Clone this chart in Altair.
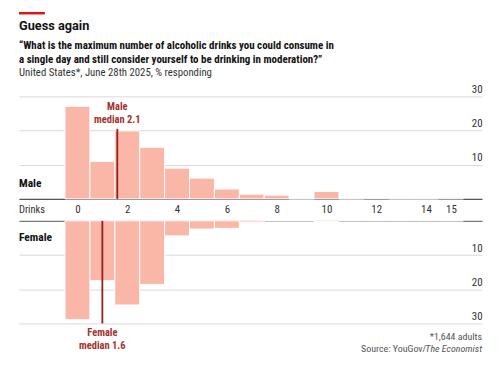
import altair as alt
import pandas as pd

# ---------------- data ----------------
drinks = list(range(16))
male_pct = [27.1, 11.0, 19.9, 15.1, 9.0, 6.1, 2.9, 1.4, 1.1, 0.0, 2.2, 0.0, 0.2, 0.0, 0.0, 0.3]
female_pct = [28.9, 17.5, 24.6, 18.6, 4.4, 2.4, 2.2, 0.4, 0.0, 0.0, 0.2, 0.0, 0.0, 0.0, 0.0, 0.0]
x_ticks = [0, 2, 4, 6, 8, 10, 12, 14, 15]
y_ticks = [10, 20, 30]
male_median_lines = ["Male", "median 2.1"]
female_median_lines = ["Female", "median 1.6"]
male_median_pos = [1.6]
female_median_pos = [1.0]
male_median_top = [20.5]
female_median_bottom = [30]

title_text = "Guess again"
subtitle_1 = "\u201cWhat is the maximum number of alcoholic drinks you could consume in"
subtitle_2 = "a single day and still consider yourself to be drinking in moderation?\u201d"
subtitle_reg = "United States*, June 28th 2025, % responding"
foot1 = "*1,644 adults"
foot2a = "Source: YouGov/"
foot2b = "The Economist"

# ---------------- style ----------------
FONT = "Roboto Condensed, Liberation Sans Narrow, DejaVu Sans Condensed, Roboto, sans-serif"
TITLE_FONT = "Roboto, sans-serif"
BAR = "#fab6a7"
RED = "#e3120b"
MED_LINE = "#9a1d1f"
MED_TXT = "#a23330"
W, H = 465, 103
xscale = alt.Scale(domain=[-2.35, 16.25], nice=False, zero=False)


def txt_df(s):
    return pd.DataFrame({"t": [s]})


def bars(values, reverse, xaxis):
    df = pd.DataFrame({"drinks": drinks, "pct": values})
    return alt.Chart(df).transform_calculate(
        lo="datum.drinks - 0.5", hi="datum.drinks + 0.5"
    ).mark_rect(color=BAR, stroke="white", strokeWidth=1).encode(
        x=alt.X("lo:Q", scale=xscale, axis=xaxis),
        x2="hi:Q",
        y=alt.Y("pct:Q", scale=alt.Scale(domain=[0, 30], nice=False, reverse=reverse),
                axis=alt.Axis(orient="right", values=y_ticks, title=None, grid=True,
                              gridColor="#d9d9d9", gridWidth=1, domain=False, ticks=False,
                              tickSize=0, labelPadding=0, labelAlign="right",
                              labelBaseline="bottom", labelOffset=-2, labelFont=FONT,
                              labelFontSize=11, labelColor="#333")),
        y2=alt.datum(0),
    )


male_xaxis = alt.Axis(values=x_ticks, title=None, domainColor="#555", domainWidth=1.2,
                      ticks=False, tickSize=0, labelPadding=5, labelFontSize=11,
                      labelColor="#333", grid=False, labelFont=FONT, labelFlush=False)
female_xaxis = alt.Axis(orient="top", values=x_ticks, title=None, domainColor="#777",
                        domainWidth=1.2, ticks=False, tickSize=0, labels=False, grid=False)

male_bars = bars(male_pct, False, male_xaxis)
female_bars = bars(female_pct, True, female_xaxis)


def med_rule(pos, end):
    return alt.Chart(pd.DataFrame({"x": pos, "y": end})).mark_rule(
        color=MED_LINE, strokeWidth=1.8).encode(
        x=alt.X("x:Q", scale=xscale), y=alt.Y("y:Q"), y2=alt.datum(0))


def med_text(pos, end, s, baseline, dy):
    return alt.Chart(pd.DataFrame({"x": pos, "y": end, "t": [s]})).mark_text(
        align="center", baseline=baseline, dy=dy, font=FONT, fontSize=10.5,
        fontWeight="bold", color=MED_TXT).encode(
        x=alt.X("x:Q", scale=xscale), y=alt.Y("y:Q"), text="t:N")


def label(s, x, y, size, weight="normal", color="#121212", align="left", baseline="middle",
          style="normal", font=FONT):
    return alt.Chart(txt_df(s)).mark_text(
        align=align, baseline=baseline, font=font, fontSize=size, fontWeight=weight,
        color=color, fontStyle=style).encode(text="t:N", x=alt.value(x), y=alt.value(y))


red_bar = alt.Chart(txt_df("r")).mark_rule(color=RED, strokeWidth=2.5).encode(
    x=alt.value(0), x2=alt.value(26), y=alt.value(-83.5))

male = alt.layer(
    male_bars,
    med_rule(male_median_pos, male_median_top),
    med_text(male_median_pos, male_median_top, male_median_lines[0], "bottom", -17),
    med_text(male_median_pos, male_median_top, male_median_lines[1], "bottom", -4),
    label("Male", 0, 88, 11.5, "bold"),
    label("Drinks", 0, H + 11, 10.5, color="#333"),
    red_bar,
    label(title_text, 0, -66.5, 12.8, "bold", baseline="alphabetic", font=TITLE_FONT),
    label(subtitle_1, 0, -47.5, 11, "bold", baseline="alphabetic"),
    label(subtitle_2, 0, -33.5, 11, "bold", baseline="alphabetic"),
    label(subtitle_reg, 0, -20.5, 10.8, color="#333", baseline="alphabetic"),
).properties(width=W, height=H)

female = alt.layer(
    female_bars,
    med_rule(female_median_pos, female_median_bottom),
    med_text(female_median_pos, female_median_bottom, female_median_lines[0], "top", 5),
    med_text(female_median_pos, female_median_bottom, female_median_lines[1], "top", 18),
    label("Female", 0, 17, 11.5, "bold"),
    label(foot1, W, H + 14, 10, color="#555", align="right"),
    label(foot2b, W, H + 26, 10, color="#555", align="right", style="italic"),
    label(foot2a, W - 56, H + 26, 10, color="#555", align="right"),
).properties(width=W, height=H)

chart = alt.vconcat(male, female, spacing=22, bounds="flush").configure_view(
    stroke=None).properties(padding={"left": 9, "top": 3, "right": 10, "bottom": 4},
                            background="white")

chart.save("out.html", embed_options={"renderer": "svg", "actions": False})
